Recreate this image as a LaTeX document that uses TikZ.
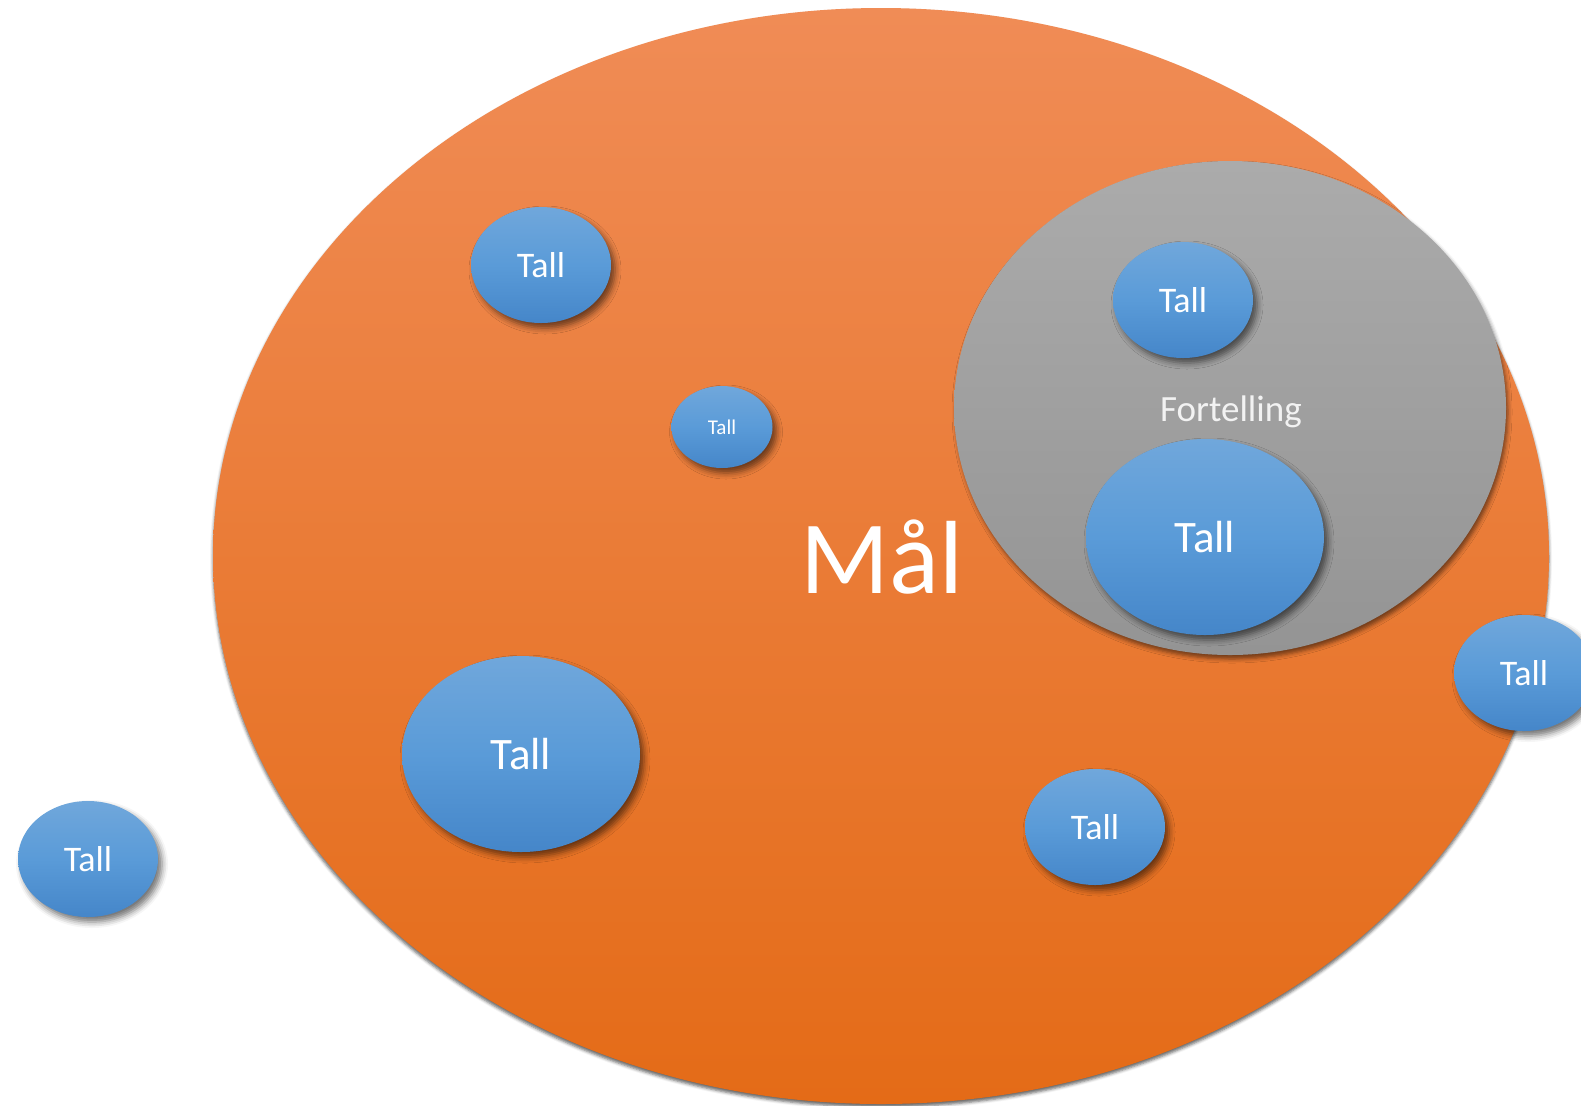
\documentclass[tikz,border=0pt]{standalone}
\usepackage{fontspec}
\setmainfont{Carlito}
\usepackage{tikz}
\usetikzlibrary{shapes.geometric}
\usetikzlibrary{shadows.blur}
\definecolor{orTop}{HTML}{F08C56}
\definecolor{orMid}{HTML}{F37B2C}
\definecolor{orBot}{HTML}{E46B17}
\definecolor{grTop}{HTML}{ABABAB}
\definecolor{grBot}{HTML}{949494}
\definecolor{blTop}{HTML}{70A7DB}
\definecolor{blMid}{HTML}{5A9BD8}
\definecolor{blBot}{HTML}{4586C9}
\tikzstyle{blob}=[ellipse, inner sep=0pt, text=white]
\tikzstyle{tall}=[blob, top color=blTop, bottom color=blBot, middle color=blMid, minimum width=70pt, minimum height=58pt, font=\fontsize{18}{20}\selectfont, blur shadow={shadow xshift=2pt, shadow yshift=-2.5pt, shadow blur radius=3pt, shadow opacity=55}]
\tikzstyle{smalltall}=[tall, minimum width=50.5pt, minimum height=41pt, font=\fontsize{10.5}{12}\selectfont]
\tikzstyle{bigtall}=[tall, minimum width=119pt, minimum height=98pt, font=\fontsize{22.5}{25}\selectfont]

\begin{document}
\begin{tikzpicture}[x=0.5pt, y=-0.5pt]
        \useasboundingbox (0,0) rectangle (1581,1105);
        % the big goal
        \node[blob, top color=orTop, middle color=orMid, bottom color=orBot, minimum width=668pt, minimum height=548pt, blur shadow={shadow xshift=0pt, shadow yshift=-1.5pt, shadow blur radius=1.5pt, shadow opacity=60}] (maal) at (881, 556) {};
        \node[font=\fontsize{52}{56}\selectfont, text=white, anchor=base] (maaltxt) at (882, 593) {Mål};
        \node[tall] (t1) at (541, 265) {Tall};
        \node[smalltall] (t2) at (722, 427) {Tall};
        \node[bigtall] (t5) at (521, 754) {Tall};
        \node[tall] (t6) at (1095, 827) {Tall};
        % the story
        \node[blob, top color=grTop, bottom color=grBot, minimum width=276pt, minimum height=247pt, blur shadow={shadow xshift=1pt, shadow yshift=-2pt, shadow blur radius=2pt, shadow opacity=50}] (fort) at (1230, 408) {};
        \node[font=\fontsize{18.5}{20}\selectfont, text=white!95!black] (forttxt) at (1231, 412) {Fortelling};
        \node[tall] (t3) at (1183, 300) {Tall};
        \node[bigtall] (t4) at (1205, 537) {Tall};
        % outside
        \node[tall] (t7) at (1524, 673) {Tall};
        \node[tall] (t8) at (88, 859) {Tall};
    \end{tikzpicture}
\end{document}
